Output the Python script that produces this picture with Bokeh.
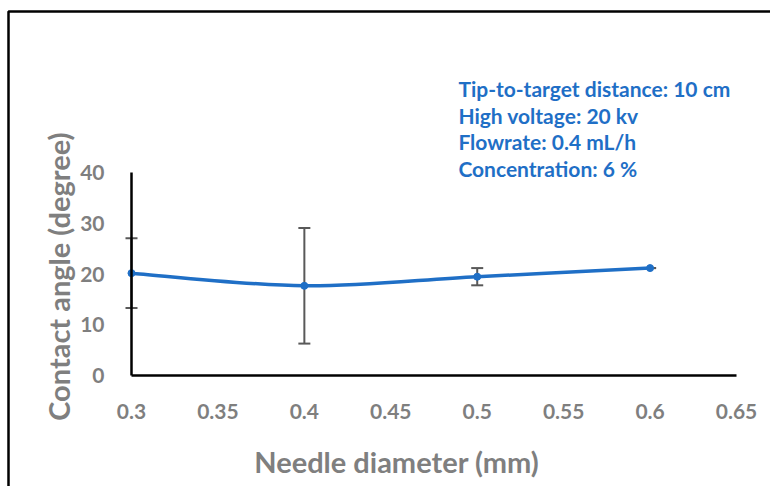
import numpy as np
from bokeh.plotting import figure
from bokeh.models import (Range1d, FixedTicker, Whisker, ColumnDataSource, Label,
                          BoxAnnotation, TeeHead)
from bokeh.embed import file_html
from bokeh.resources import INLINE

# ---- data ----
DIAMETER = [0.3, 0.4, 0.5, 0.6]
ANGLE = [20.2, 17.7, 19.5, 21.2]
ERROR = [6.9, 11.4, 1.7, 0.0]
X_TICKS = [0.3, 0.35, 0.4, 0.45, 0.5, 0.55, 0.6, 0.65]
X_TICK_LABELS = ["0.3", "0.35", "0.4", "0.45", "0.5", "0.55", "0.6", "0.65"]
Y_TICKS = [0, 10, 20, 30, 40]
NOTES = ["Tip-to-target distance: 10 cm", "High voltage: 20 kv",
         "Flowrate: 0.4 mL/h", "Concentration: 6 %"]
X_TITLE = "Needle diameter (mm)"
Y_TITLE = "Contact angle (degree)"

# ---- style / layout ----
BLUE = "#1f6fc6"
GRAY = "#7f7f7f"
ERR_COLOR = "#595959"
FONT = "Lato"
X_VIEW = (0.22422, 0.66966)   # visible x extent (whole canvas)
Y_VIEW = (-21.9, 74.0)        # visible y extent (whole canvas)
X_AXIS_SPAN = (0.3, 0.65)
Y_AXIS_SPAN = (0, 40)
NOTE_X, NOTE_Y0, NOTE_DY = 0.4891, 56.7, 5.3
X_TITLE_POS = (0.4535, -17.0)
Y_TITLE_POS = (0.2578, 19.5)

p = figure(width=770, height=486, x_range=Range1d(*X_VIEW), y_range=Range1d(*Y_VIEW),
           output_backend="svg", toolbar_location=None,
           min_border=0, min_border_left=0, min_border_right=0,
           min_border_top=0, min_border_bottom=0)
p.background_fill_color = "white"
p.border_fill_color = "white"
p.outline_line_color = None
p.grid.visible = False

for ax in (p.xaxis[0], p.yaxis[0]):
    ax.axis_line_color = "black"
    ax.axis_line_width = 2.5
    ax.major_tick_line_color = None
    ax.minor_tick_line_color = None
    ax.major_label_text_font = FONT
    ax.major_label_text_font_style = "bold"
    ax.major_label_text_font_size = "21px"
    ax.major_label_text_color = GRAY

p.xaxis.fixed_location = Y_AXIS_SPAN[0]
p.xaxis.bounds = X_AXIS_SPAN
p.xaxis.ticker = FixedTicker(ticks=X_TICKS)
p.xaxis.major_label_overrides = dict(zip(X_TICKS, X_TICK_LABELS))
p.xaxis.major_label_standoff = 22
p.yaxis.fixed_location = X_AXIS_SPAN[0]
p.yaxis.bounds = Y_AXIS_SPAN
p.yaxis.ticker = FixedTicker(ticks=Y_TICKS)
p.yaxis.major_label_standoff = 21

# error bars
x = np.array(DIAMETER)
y = np.array(ANGLE)
e = np.array(ERROR)
src = ColumnDataSource(dict(x=x, upper=y + e, lower=y - e))
p.add_layout(Whisker(source=src, base="x", upper="upper", lower="lower",
                     line_color=ERR_COLOR, line_width=2,
                     upper_head=TeeHead(size=12, line_color=ERR_COLOR, line_width=2),
                     lower_head=TeeHead(size=12, line_color=ERR_COLOR, line_width=2)))

# smoothed line (Catmull-Rom style bezier through the data points)
px = np.concatenate([[x[0]], x, [x[-1]]])
py = np.concatenate([[y[0]], y, [y[-1]]])
n = len(x)
cx0 = x[:-1] + (px[2:n + 1] - px[0:n - 1]) / 6.0
cy0 = y[:-1] + (py[2:n + 1] - py[0:n - 1]) / 6.0
cx1 = x[1:] - (px[3:n + 2] - px[1:n]) / 6.0
cy1 = y[1:] - (py[3:n + 2] - py[1:n]) / 6.0
p.bezier(x0=x[:-1], y0=y[:-1], x1=x[1:], y1=y[1:], cx0=cx0, cy0=cy0, cx1=cx1, cy1=cy1,
         line_color=BLUE, line_width=3.5)
p.scatter(x, y, size=7, color=BLUE)

# notes
for i, t in enumerate(NOTES):
    p.add_layout(Label(x=NOTE_X, y=NOTE_Y0 - i * NOTE_DY, text=t, text_font=FONT,
                       text_font_style="bold", text_font_size="21px", text_color=BLUE,
                       text_baseline="middle", text_align="left"))

# axis titles
p.add_layout(Label(x=X_TITLE_POS[0], y=X_TITLE_POS[1], text=X_TITLE, text_font=FONT,
                   text_font_style="bold", text_font_size="29px", text_color=GRAY,
                   text_baseline="middle", text_align="center"))
p.add_layout(Label(x=Y_TITLE_POS[0], y=Y_TITLE_POS[1], text=Y_TITLE, text_font=FONT,
                   text_font_style="bold", text_font_size="29px", text_color=GRAY,
                   text_baseline="middle", text_align="center", angle=np.pi / 2))

# outer chart border
p.add_layout(BoxAnnotation(left=8, right=900, top=11, bottom=900,
                           left_units="canvas", right_units="canvas",
                           top_units="canvas", bottom_units="canvas",
                           fill_color=None, line_color="black", line_alpha=1.0,
                           line_width=2.5))

open("out.html", "w").write(file_html(p, INLINE))
